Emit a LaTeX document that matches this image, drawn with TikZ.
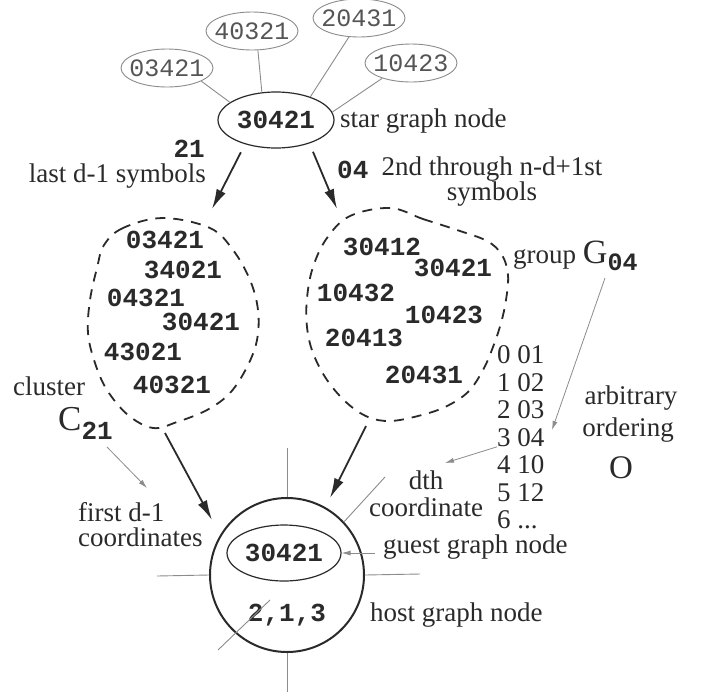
\documentclass[tikz,border=0pt]{standalone}
\usepackage{fontspec}
\setmainfont{Liberation Serif}
\setmonofont{Liberation Mono}
\usetikzlibrary{shapes.geometric,arrows.meta}

\definecolor{ink}{HTML}{2A2A2A}
\definecolor{edgegray}{HTML}{8C8C8C}
\definecolor{nbrtext}{HTML}{555555}

\newcommand\fsz[1]{\fontsize{#1}{#1}\selectfont}
\newcommand\codeb{\ttfamily\bfseries}

\begin{document}
\begin{tikzpicture}[x=1pt,y=-1pt,
  txt/.style={font=\fontsize{27}{27}\selectfont, text=ink, inner sep=0pt},
  code/.style={font=\fontsize{26}{26}\selectfont\codeb, text=ink, inner sep=0pt},
  nbr/.style={ellipse, draw=edgegray, line width=0.9pt, inner xsep=-10pt, inner ysep=0pt,
              minimum width=92pt, minimum height=38pt,
              font=\fontsize{25}{25}\selectfont\ttfamily, text=nbrtext},
  oval/.style={ellipse, draw=ink, line width=1.2pt, inner xsep=-10pt, inner ysep=0pt},
  blob/.style={draw=ink, line width=1.8pt, dash pattern=on 10pt off 8pt},
  bigarrow/.style={draw=ink, line width=1.8pt, -{Latex[length=20pt,width=10pt]}},
  thinarrow/.style={draw=edgegray, line width=0.8pt, -{Latex[length=9pt,width=5pt]}},
  hostedge/.style={draw=edgegray, line width=0.9pt},
]
\useasboundingbox[fill=white] (0,0) rectangle (701,694);

% ---------- star graph node and its neighbours ----------
\node[oval, code, inner xsep=-10pt, minimum width=116pt, minimum height=56pt] (star) at (276,120) {30421};
\node[nbr] (n1) at (167,68) {03421};
\node[nbr] (n2) at (252,31) {40321};
\node[nbr] (n3) at (359,18) {20431};
\node[nbr] (n4) at (411,63) {10423};
\draw[hostedge] (n1.-21)  -- (star.159);
\draw[hostedge] (n2.-73)  -- (star.117);
\draw[hostedge] (n3.-118) -- (star.34);
\draw[hostedge] (n4.-152) -- (star.8);
\node[txt, anchor=west] (starlbl) at (340,121) {star graph node};

% ---------- labels of the two projections ----------
\node[code, anchor=east] (s21) at (205,149) {21};
\node[txt, anchor=east] (lastlbl) at (206,176) {last d-1 symbols};
\node[code, anchor=west] (s04) at (337,170) {04};
\node[txt, align=center, font=\fontsize{27}{25}\selectfont] (midlbl) at (492,182) {2nd through n-d+1st\\symbols};

% ---------- cluster C21 ----------
\draw[blob] plot[smooth cycle, tension=0.6] coordinates {
  (163,218) (123,228) (104,245) (97,268) (90,300) (88,333) (95,363) (107,390)
  (128,415) (153,428) (177,422) (207,410) (230,393) (247,367) (257,340)
  (258,310) (250,280) (233,250) (210,228)};
\node[code] (c1) at (165,240) {03421};
\node[code] (c2) at (183,270) {34021};
\node[code] (c3) at (146,298) {04321};
\node[code] (c4) at (201,322) {30421};
\node[code] (c5) at (143,352) {43021};
\node[code] (c6) at (172,385) {40321};
\node[txt, anchor=base west] (clusterlbl) at (13,395) {cluster};
\node[txt, anchor=base west] (c21) at (58,430) {\fsz{35}C\raisebox{-9pt}{\fsz{26}\codeb 21}};

% ---------- group G04 ----------
\draw[blob] plot[smooth cycle, tension=0.6] coordinates {
  (390,208) (423,219) (457,230) (487,241) (502,255) (508,275) (506,300)
  (501,323) (493,347) (483,370) (468,392) (445,407) (418,416) (390,421)
  (368,417) (347,403) (327,380) (313,353) (307,327) (307,298) (313,267)
  (327,238) (350,216)};
\node[code] (g1) at (382,247) {30412};
\node[code] (g2) at (453,268) {30421};
\node[code] (g3) at (356,293) {10432};
\node[code] (g4) at (444,315) {10423};
\node[code] (g5) at (364,338) {20413};
\node[code] (g6) at (424,375) {20431};
\node[txt, anchor=base west] (g04) at (513,263) {group \fsz{34}G\raisebox{-7pt}{\fsz{25}\codeb 04}};

% ---------- arbitrary ordering O ----------
\node[txt, anchor=west] (o0) at (497,355) {0 01};
\node[txt, anchor=west] (o1) at (497,382.5) {1 02};
\node[txt, anchor=west] (o2) at (497,410) {2 03};
\node[txt, anchor=west] (o3) at (497,437.5) {3 04};
\node[txt, anchor=west] (o4) at (497,465) {4 10};
\node[txt, anchor=west] (o5) at (497,492.5) {5 12};
\node[txt, anchor=west] (o6) at (497,520) {6 ...};
\node[txt] (arbit) at (631,398) {arbitrary};
\node[txt] (orderlbl) at (628,430) {ordering};
\node[txt, font=\fsz{33}] (bigO) at (621,468) {O};

% ---------- host graph node ----------
\node[circle, draw=ink, line width=2pt, minimum size=154pt, inner sep=0pt] (host) at (287,575) {};
\node[oval, code, minimum width=114pt, minimum height=56pt] (guest) at (284,553) {30421};
\node[code] (hostlab) at (287,615) {2,1,3};

\coordinate (eN)  at (287,448);
\coordinate (eW)  at (157,576);
\coordinate (eE)  at (420,574);
\coordinate (eS)  at (287,692);
\coordinate (eNE) at (385,477);
\coordinate (eSWa) at (218,650);
\coordinate (eSWb) at (270,600);
\draw[hostedge] (host.north) -- (eN);
\draw[hostedge] (host.west)  -- (eW);
\draw[hostedge] (host.east)  -- (eE);
\draw[hostedge] (host.south) -- (eS);
\draw[hostedge] (host.43)    -- (eNE);
\draw[hostedge] (eSWa) -- (eSWb);

\node[txt, align=center, font=\fontsize{27}{27}\selectfont] (dthlbl) at (426,494) {dth\\coordinate};
\node[txt, align=left, font=\fontsize{27}{25}\selectfont, anchor=west] (firstlbl) at (78,525) {first d-1\\coordinates};
\node[txt, anchor=west] (guestlbl) at (383,547) {guest graph node};
\node[txt, anchor=west] (hostlbl) at (370,615) {host graph node};

% ---------- thick arrows ----------
\coordinate (Ltop) at (212,209);
\coordinate (Rtop) at (337,209);
\coordinate (Lbot) at (165,433);
\coordinate (Lin)  at (212,520);
\coordinate (Rbot) at (366,426);
\coordinate (Rin)  at (330,498);
\draw[bigarrow, shorten <=9pt] (star.-142) -- (Ltop);
\draw[bigarrow, shorten <=9pt] (star.-35)  -- (Rtop);
\draw[bigarrow] (Lbot) -- (Lin);
\draw[bigarrow] (Rbot) -- (Rin);

% ---------- thin pointer arrows ----------
\coordinate (cS)  at (107,447);
\coordinate (fdT) at (147,488);
\coordinate (gS)  at (605,278);
\coordinate (oT)  at (552,430);
\coordinate (dT)  at (445,463);
\draw[thinarrow] (cS) -- (fdT);
\draw[thinarrow] (gS) -- (oT);
\draw[thinarrow] (o3.south west) -- (dT);
\draw[thinarrow] ([xshift=-8pt]guestlbl.west |- guest.east) -- (guest.east);
\end{tikzpicture}
\end{document}
